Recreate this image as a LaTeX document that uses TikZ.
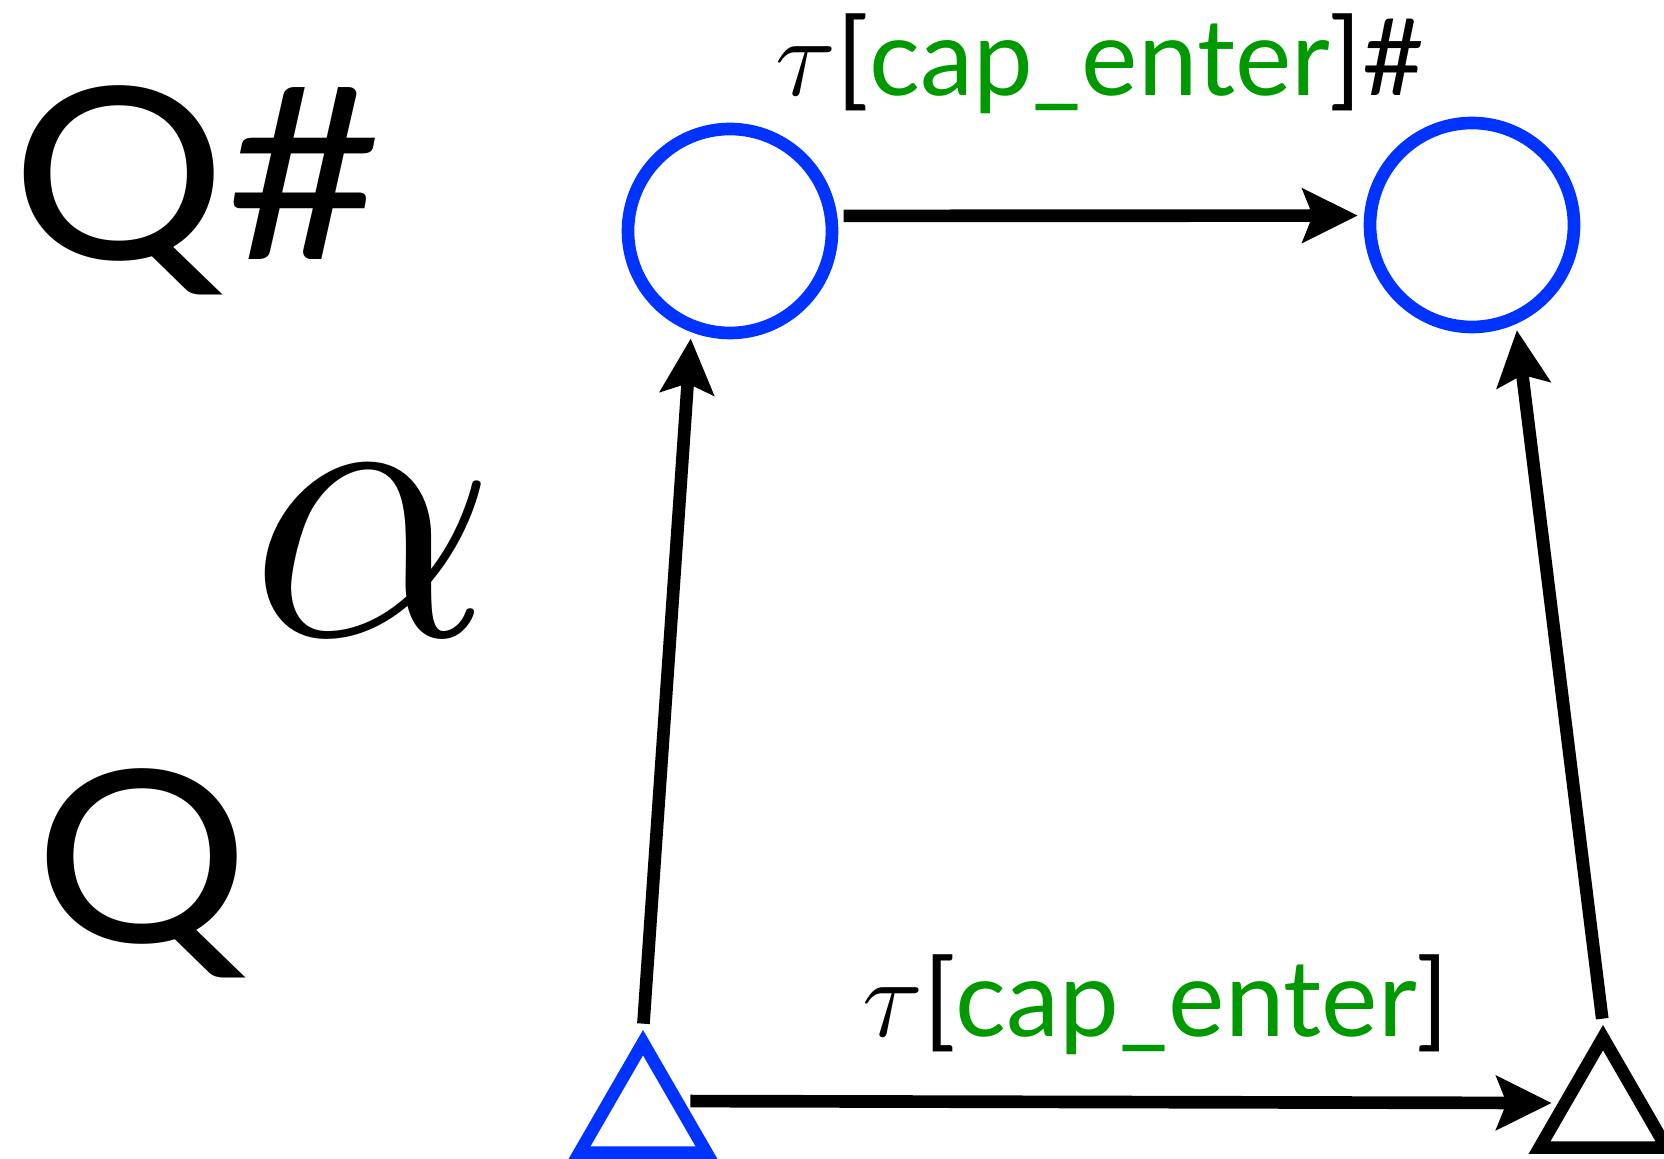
\documentclass[tikz,border=0pt]{standalone}
\usepackage{fix-cm}
\usepackage{fontspec}
\setmainfont{Lato}
\newfontfamily\widefont[FakeStretch=1.12]{Lato}
\usepackage{xcolor}
\usetikzlibrary{arrows.meta,shapes.geometric}
\definecolor{stateblue}{RGB}{0,51,255}
\definecolor{capgreen}{RGB}{0,153,0}
\newcommand{\taulabel}{{\fontsize{34}{34}\selectfont$\tau$}}

\begin{document}
\begin{tikzpicture}[x=0.3pt, y=-0.3pt, line width=3.8pt,
		state/.style={circle, draw=stateblue, minimum size=61.2pt, inner sep=0pt},
		obs/.style={regular polygon, regular polygon sides=3, draw, minimum size=44pt, inner sep=0pt},
		trans/.style={-{Stealth[length=16.5pt, width=16pt, inset=3pt]}, shorten >=1.9pt, shorten <=1.9pt},
		big/.style={font=\widefont\fontsize{72}{80}\selectfont, anchor=base, inner sep=0pt},
		lbl/.style={font=\fontsize{32}{36}\selectfont, anchor=base, inner sep=0pt}]
			
			\useasboundingbox (0,0) rectangle (1664,1159);
			
			% level names
			\node[big] (qsharp) at (197,260) {Q\#};
			\node[font=\fontsize{118}{120}\selectfont, anchor=base, inner sep=0pt] (alpha) at (373,636) {$\alpha$};
			\node[big] (q) at (142,943) {Q};
			
			% states
			\node[state] (s1) at (730,231) {};
			\node[state] (s2) at (1472,225) {};
			\node[obs, draw=stateblue] (init) at (643,1116) {};
			\node[obs] (fin) at (1603,1111) {};
			
			% transitions
			\draw[trans] (init.corner 1) -- (s1.249);
			\draw[trans] (fin.corner 1) -- (s2.294);
			\draw[trans] (s1.8) -- (s2.175);
			\draw[trans] (init.20) -- (fin.170);
			
			\node[lbl] (top) at (1100,96) {\taulabel[\textcolor{capgreen}{cap\_enter}]\#};
			\node[lbl] (bottom) at (1156,1037) {\taulabel[\textcolor{capgreen}{cap\_enter}]};
			
		\end{tikzpicture}
\end{document}
